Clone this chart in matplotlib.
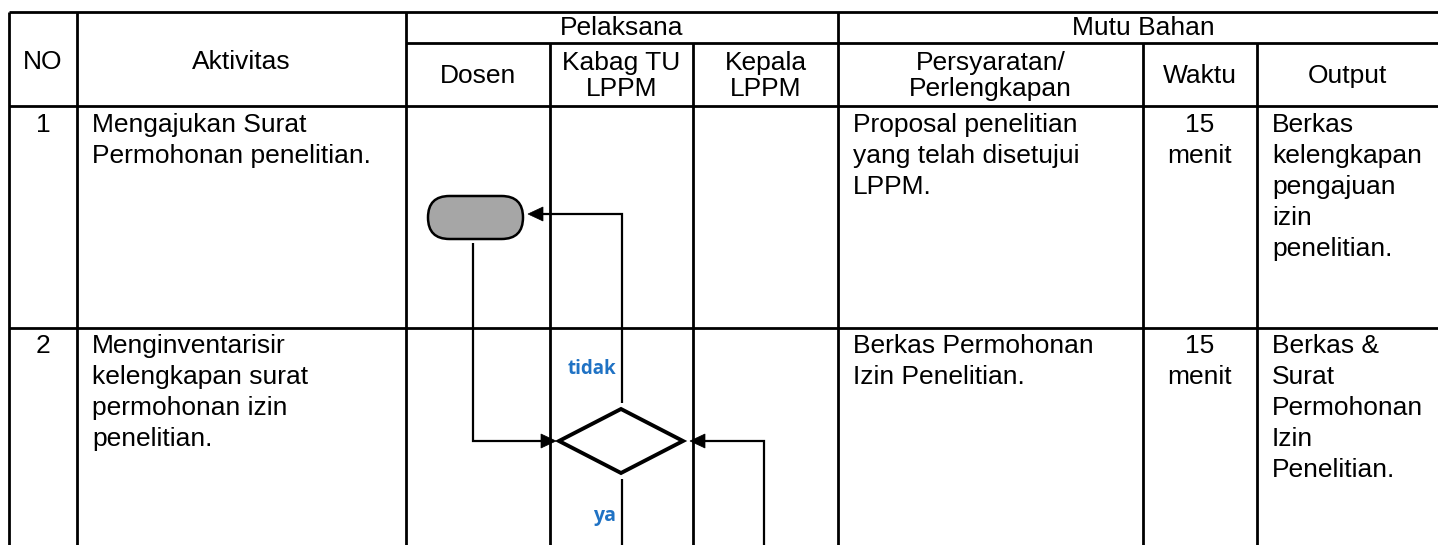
import matplotlib
matplotlib.use("Agg")
import matplotlib.pyplot as plt
from matplotlib.patches import FancyBboxPatch, Polygon

# ---------------- data ----------------
header_top = ["NO", "Aktivitas", "Pelaksana", "Mutu Bahan"]
pelaksana_cols = ["Dosen", "Kabag TU\nLPPM", "Kepala\nLPPM"]
mutu_cols = ["Persyaratan/\nPerlengkapan", "Waktu", "Output"]

row_numbers = ["1", "2"]
aktivitas = [
    ["Mengajukan Surat", "Permohonan penelitian."],
    ["Menginventarisir", "kelengkapan surat", "permohonan izin", "penelitian."],
]
persyaratan = [
    ["Proposal penelitian", "yang telah disetujui", "LPPM."],
    ["Berkas Permohonan", "Izin Penelitian."],
]
waktu = [["15", "menit"], ["15", "menit"]]
output = [
    ["Berkas", "kelengkapan", "pengajuan", "izin", "penelitian."],
    ["Berkas &", "Surat", "Permohonan", "Izin", "Penelitian."],
]
decision_labels = ["tidak", "ya"]

# ---------------- layout ----------------
W, H = 1438, 545
fig = plt.figure(figsize=(W / 100, H / 100), dpi=100)
ax = fig.add_axes([0, 0, 1, 1])
ax.set_xlim(0, W)
ax.set_ylim(H, 0)
ax.axis("off")

FONT = "Liberation Sans"
FS = 19  # pt
LW = 2.0
xs = [9, 77, 406, 550, 693, 838, 1143, 1257, 1448]
y_top, y_sub, y_head, y_r1 = 12, 43, 106, 328
y_bot = H + 5

def hline(y, x0, x1, lw=LW):
    ax.plot([x0, x1], [y, y], color="black", lw=lw, solid_capstyle="butt")

def vline(x, y0, y1, lw=LW):
    ax.plot([x, x], [y0, y1], color="black", lw=lw, solid_capstyle="butt")

# table grid
hline(y_top, xs[0], xs[-1])
hline(y_sub, xs[2], xs[-1])
hline(y_head, xs[0], xs[-1])
hline(y_r1, xs[0], xs[-1])
for i, x in enumerate(xs):
    if i in (3, 4, 6, 7):
        vline(x, y_sub, y_bot)
    else:
        vline(x, y_top, y_bot)

def ctext(x, y, s):
    ax.text(x, y, s, ha="center", va="center", fontsize=FS, family=FONT,
            linespacing=1.15)

# headers
ctext((xs[0] + xs[1]) / 2, 62, header_top[0])
ctext((xs[1] + xs[2]) / 2, 62, header_top[1])
ctext((xs[2] + xs[5]) / 2, 28, header_top[2])
ctext((xs[5] + xs[8]) / 2, 28, header_top[3])
sub_x = [(xs[2] + xs[3]) / 2, (xs[3] + xs[4]) / 2, (xs[4] + xs[5]) / 2,
         (xs[5] + xs[6]) / 2, (xs[6] + xs[7]) / 2, (xs[7] + xs[8]) / 2 - 5]
for xc, s in zip(sub_x, pelaksana_cols + mutu_cols):
    ctext(xc, 76, s)

# body text
LS = 31
row_base = [132, 353]

def lines(x, y0, items, ha="left"):
    for k, s in enumerate(items):
        ax.text(x, y0 + k * LS, s, ha=ha, va="baseline", fontsize=FS,
                family=FONT)

for r in range(2):
    b = row_base[r]
    lines((xs[0] + xs[1]) / 2, b, [row_numbers[r]], ha="center")
    lines(xs[1] + 15, b, aktivitas[r])
    lines(xs[5] + 15, b, persyaratan[r])
    lines((xs[6] + xs[7]) / 2, b, waktu[r], ha="center")
    lines(xs[7] + 15, b, output[r])

# ---------------- flowchart ----------------
FLW = 1.6

def arrow_head(tip_x, tip_y, direction):
    L, hw = 15, 7
    if direction == "left":
        pts = [(tip_x, tip_y), (tip_x + L, tip_y - hw), (tip_x + L, tip_y + hw)]
    else:
        pts = [(tip_x, tip_y), (tip_x - L, tip_y - hw), (tip_x - L, tip_y + hw)]
    ax.add_patch(Polygon(pts, closed=True, facecolor="black",
                         edgecolor="black", lw=0.5, zorder=5))

def path(xy, lw=FLW):
    ax.plot([p[0] for p in xy], [p[1] for p in xy], color="black", lw=lw,
            solid_joinstyle="miter", solid_capstyle="butt", zorder=4)

# terminator
tx0, tx1, ty0, ty1 = 428, 523, 196, 239
ax.add_patch(FancyBboxPatch((tx0, ty0), tx1 - tx0, ty1 - ty0,
                            boxstyle="round,pad=0,rounding_size=21.5",
                            facecolor="#a6a6a6", edgecolor="black", lw=1.8,
                            zorder=4))

# diamond
dcx, dcy, dhw, dhh = 621, 441, 62, 32
ax.add_patch(Polygon([(dcx - dhw, dcy), (dcx, dcy - dhh), (dcx + dhw, dcy),
                      (dcx, dcy + dhh)], closed=True, facecolor="white",
                     edgecolor="black", lw=2.8, joinstyle="miter", zorder=4))

# tidak: from diamond top up and back to terminator
path([(622, 403), (622, 214), (542, 214)])
arrow_head(528, 214, "left")
# terminator to diamond
path([(473, 243), (473, 441), (542, 441)])
arrow_head(556, 441, "right")
# ya: diamond bottom downward
path([(622, 479), (622, H + 5)])
# return from Kepala LPPM
path([(764, H + 5), (764, 441), (704, 441)])
arrow_head(690, 441, "left")

blue = "#1f72c4"
ax.text(592, 369, decision_labels[0], ha="center", va="center", fontsize=13.5,
        family="Open Sans", fontweight="bold", color=blue)
ax.text(605, 516, decision_labels[1], ha="center", va="center", fontsize=14,
        family="Open Sans", fontweight="bold", color=blue)

fig.savefig("out.png", dpi=100, facecolor="white")
